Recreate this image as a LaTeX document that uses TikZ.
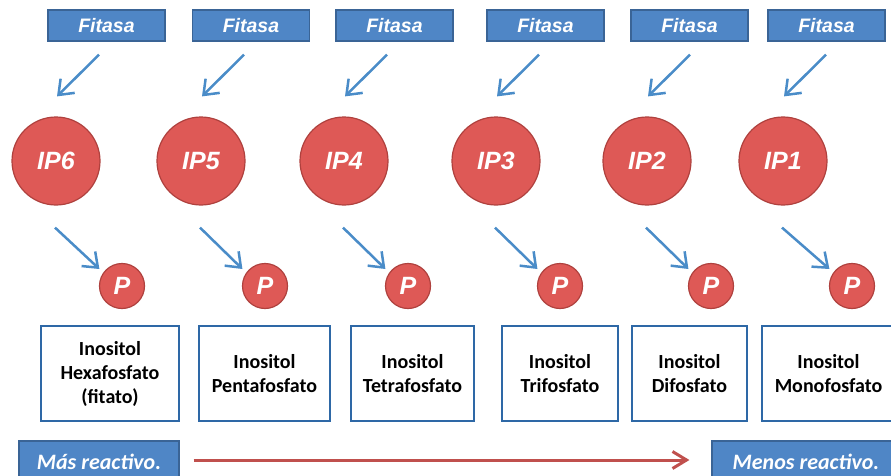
\documentclass[tikz,border=0pt]{standalone}
\usepackage{fontspec}
\setmainfont{Carlito}
\newfontfamily\arialfont{Liberation Sans}
\usetikzlibrary{arrows.meta,calc}
\definecolor{fitblue}{RGB}{79,134,198}
\definecolor{fitborder}{RGB}{58,100,150}
\definecolor{ipred}{RGB}{222,89,86}
\definecolor{ipborder}{RGB}{175,65,62}
\definecolor{boxblue}{RGB}{46,104,166}
\definecolor{arrowblue}{RGB}{74,140,200}
\definecolor{darkred}{RGB}{192,80,77}

\tikzset{
  enzyme/.style={draw=fitborder,line width=1.2pt,fill=fitblue,minimum width=117pt,minimum height=31pt,inner sep=0pt,text=white,font=\arialfont\bfseries\itshape\fontsize{19.5}{22}\selectfont},
  ipball/.style={circle,draw=ipborder,line width=1.2pt,fill=ipred,minimum size=88pt,inner sep=0pt,text=white,font=\arialfont\bfseries\itshape\fontsize{25}{28}\selectfont},
  pball/.style={ipball,minimum size=45pt},
  namebox/.style={draw=boxblue,line width=1.8pt,fill=white,minimum height=95pt,inner sep=0pt,align=center,font=\bfseries\fontsize{20}{24}\selectfont},
  tag/.style={draw=fitborder,line width=1.2pt,fill=fitblue,minimum height=42pt,inner sep=0pt,text=white,font=\bfseries\itshape\fontsize{22}{26}\selectfont},
  cut/.style={draw=arrowblue,line width=2.5pt,-{Straight Barb[length=13pt,width=20pt]}},
  trend/.style={draw=darkred,line width=3pt,-{Straight Barb[length=14pt,width=17pt]}}
}

\begin{document}
\begin{tikzpicture}[x=1pt,y=1pt]
    \useasboundingbox (0,0) rectangle (891,475);
    \clip (0,0) rectangle (891,475);
    \foreach \i/\ip/\fx/\ipx/\px/\bx/\bw/\name in {
        1/6/106.5/56/122/110/138/{Inositol\\Hexafosfato\\(fitato)},
        2/5/251/201/265/264.5/131/{Inositol\\Pentafosfato},
        3/4/394.5/344/408/412.5/123/{Inositol\\Tetrafosfato},
        4/3/545.5/496/560/560/116/{Inositol\\Trifosfato},
        5/2/689.5/647/711/689.5/115/{Inositol\\Difosfato},
        6/1/826.5/783/852/828.5/133/{Inositol\\Monofosfato}}{
        \node[enzyme] (f\i) at (\fx,449.5) {Fitasa};
        \node[ipball] (ip\i) at (\ipx,314) {IP\ip};
        \node[pball] (p\i) at (\px,189) {P};
        \node[namebox,minimum width=\bw pt] (b\i) at (\bx,101.5) {\name};
        \draw[cut] ($(f\i.south -| ip\i.north)+(43,-13)$) -- ($(ip\i.north)+(1,20)$);
        \draw[cut] ($(ip\i.south)+(-1,-22)$) -- ($(p\i.west)+(0.5,17)$);
    }
    \node[tag,minimum width=160pt] (more) at (99,13) {Más reactivo.};
    \node[tag,minimum width=188pt] (less) at (806,13) {Menos reactivo.};
    \draw[trend] ($(more.east)+(14,2)$) -- ($(less.west)+(-22,2)$);
\end{tikzpicture}
\end{document}
